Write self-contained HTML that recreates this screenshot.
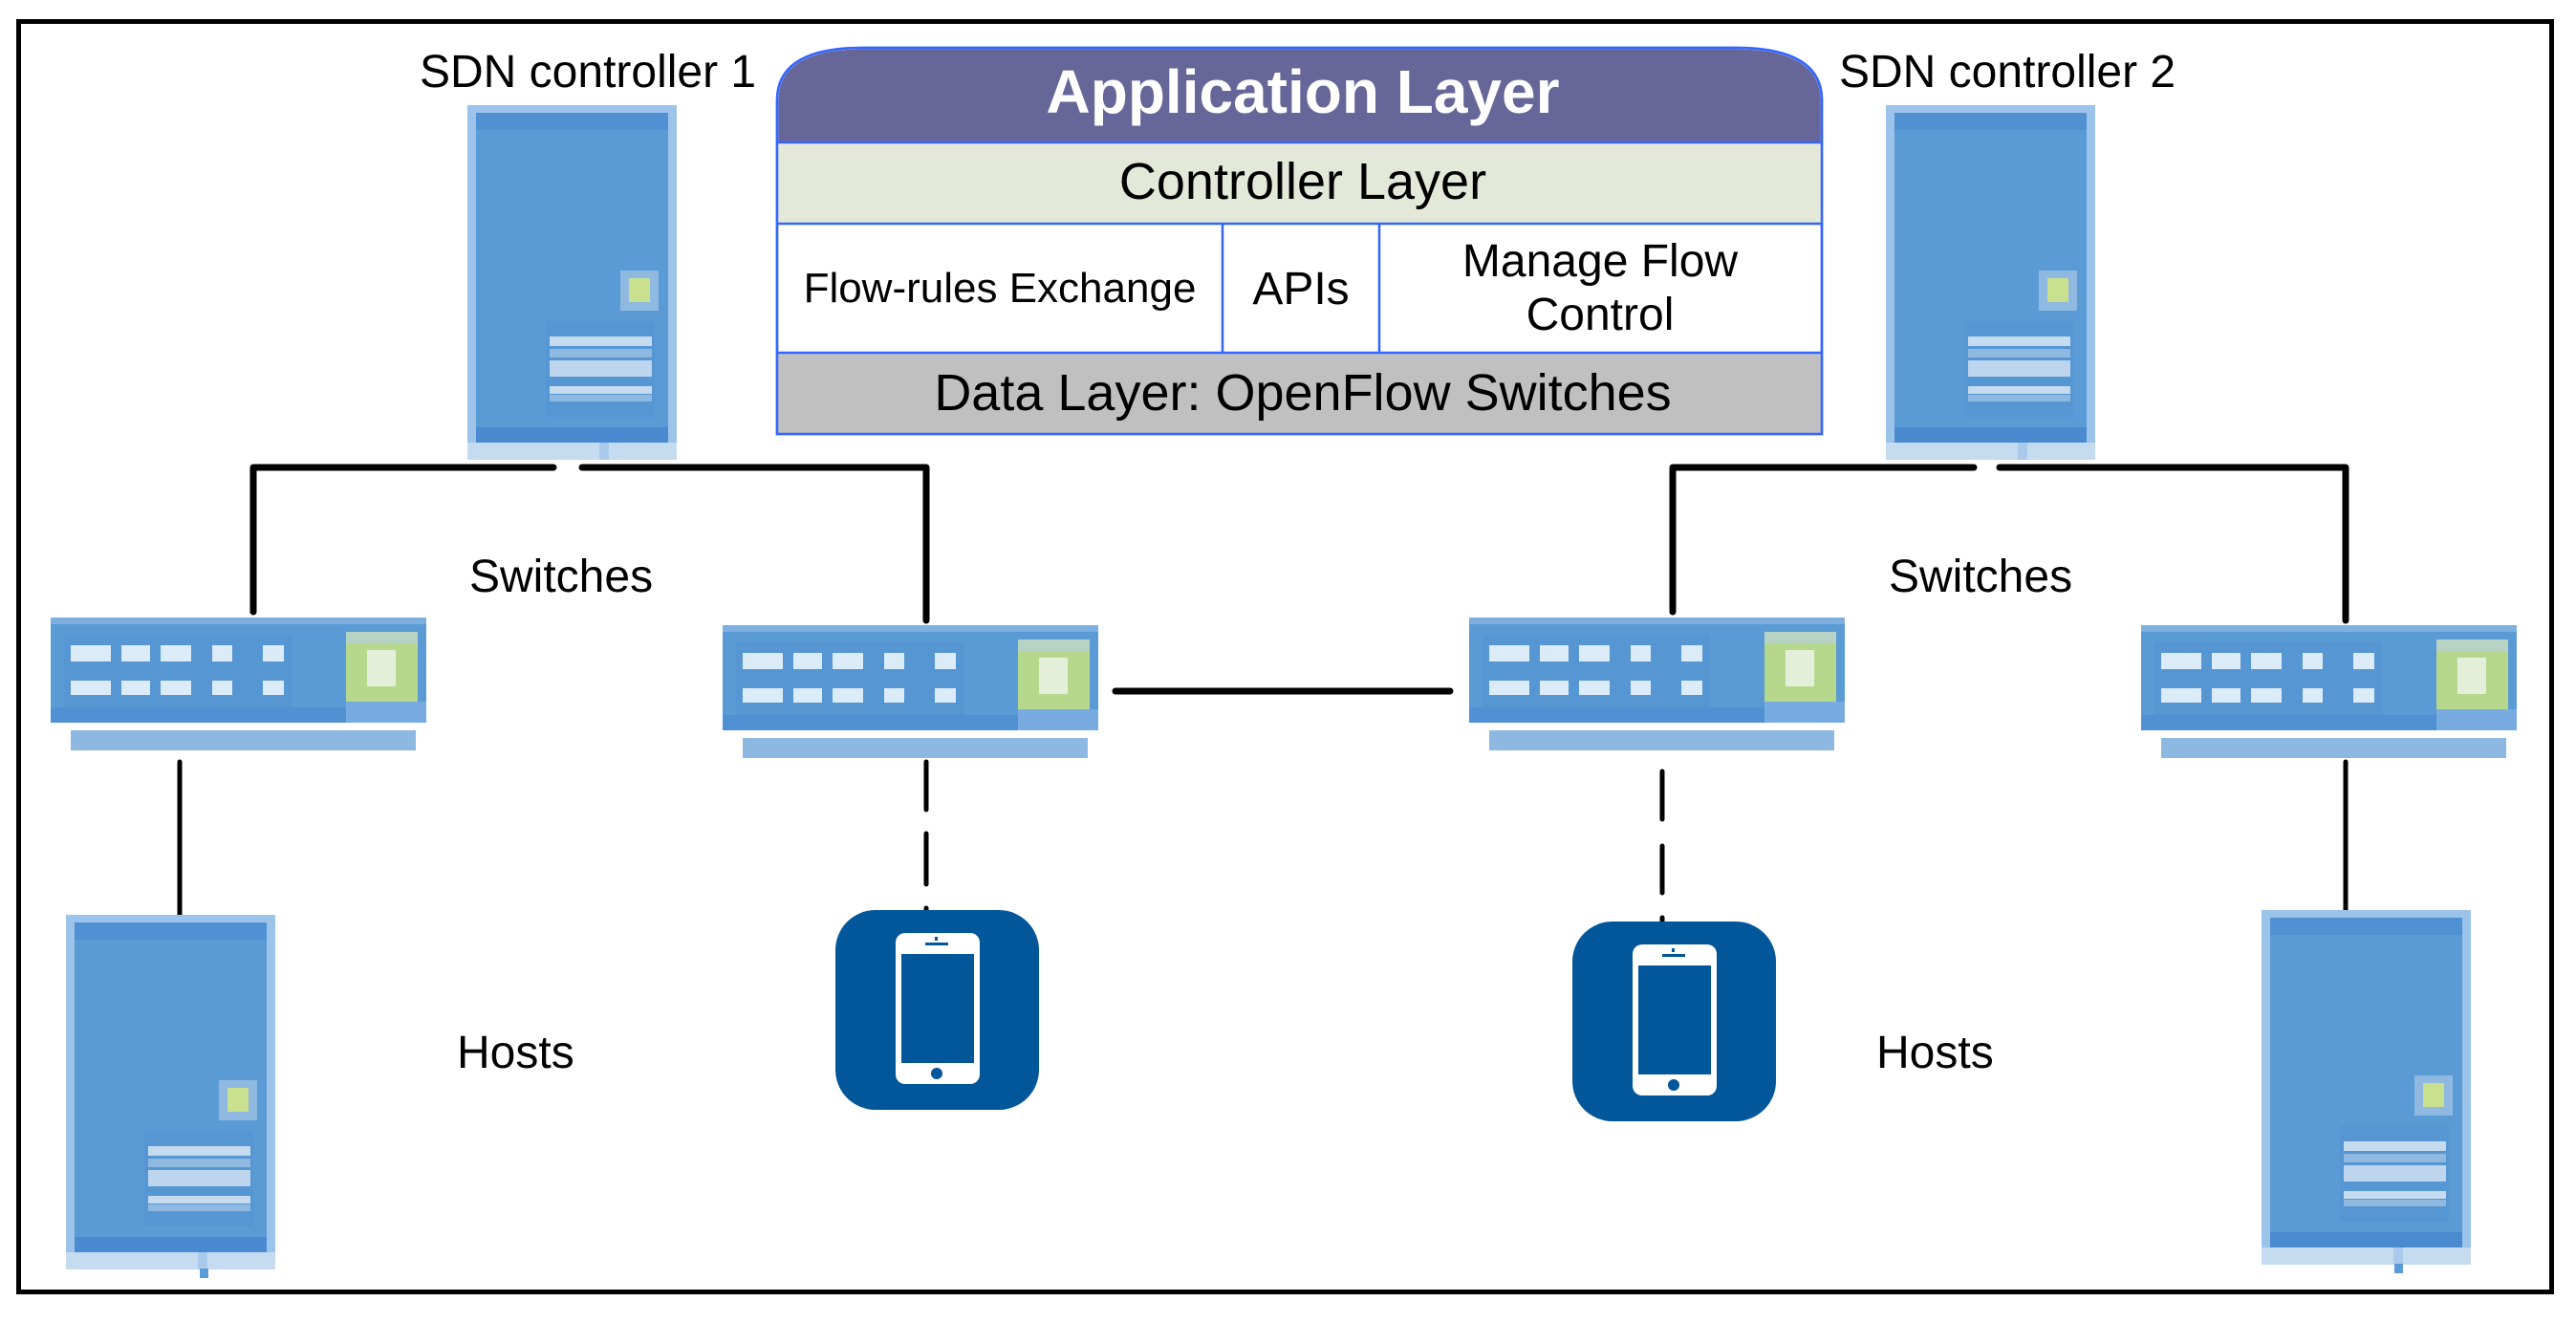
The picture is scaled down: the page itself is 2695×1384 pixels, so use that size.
<!DOCTYPE html>
<html><head><meta charset="utf-8"><style>
html,body{margin:0;padding:0;background:#fff}
svg{display:block}
text{font-family:"Liberation Sans",Arial,sans-serif;fill:#000}
</style></head><body>
<svg width="2695" height="1384" viewBox="0 0 2695 1384" xmlns="http://www.w3.org/2000/svg">
<defs>
<g id="server">
  <rect x="0" y="0" width="219" height="353" fill="#9cc3e9"/>
  <rect x="9" y="8" width="201" height="345" fill="#5b9bd5"/>
  <rect x="9" y="8" width="201" height="18" fill="#4f91d2"/>
  <rect x="9" y="337" width="201" height="16" fill="#4a8ad0"/>
  <rect x="0" y="353" width="219" height="18" fill="#c5dbf0"/>
  <rect x="138" y="353" width="10" height="18" fill="#a9caeb"/>
  <rect x="160" y="173" width="40" height="42" fill="#8fb9e0"/>
  <rect x="169" y="181" width="22" height="25" fill="#c9e08f"/>
  <rect x="82" y="226" width="114" height="100" fill="#5596d3"/>
  <rect x="86" y="242" width="107" height="10" fill="#c5dbf0"/>
  <rect x="86" y="255" width="107" height="9" fill="#8fb9e0"/>
  <rect x="86" y="267" width="107" height="17" fill="#bdd6ee"/>
  <rect x="86" y="294" width="107" height="8" fill="#c5dbf0"/>
  <rect x="86" y="303" width="107" height="7" fill="#8fb9e0"/>
</g>
<g id="switch">
  <rect x="0" y="0" width="393" height="110" fill="#5b9bd5"/>
  <rect x="0" y="0" width="393" height="7" fill="#7db0e0"/>
  <rect x="0" y="94" width="393" height="16" fill="#4f91d2"/>
  <rect x="309" y="88" width="84" height="22" fill="#78ace0"/>
  <rect x="14" y="18" width="238" height="76" fill="#5596d3"/>
  <g fill="#dcebf8">
    <rect x="21" y="29" width="42" height="17"/><rect x="74" y="29" width="30" height="17"/><rect x="115" y="29" width="32" height="17"/><rect x="169" y="29" width="21" height="17"/><rect x="222" y="29" width="22" height="17"/>
    <rect x="21" y="66" width="42" height="15"/><rect x="74" y="66" width="30" height="15"/><rect x="115" y="66" width="32" height="15"/><rect x="169" y="66" width="21" height="15"/><rect x="222" y="66" width="22" height="15"/>
  </g>
  <rect x="309" y="15" width="75" height="73" fill="#b5d88c"/>
  <rect x="309" y="15" width="75" height="12" fill="#b7d3c3"/>
  <rect x="331" y="34" width="30" height="38" fill="#e3efd8"/>
  <rect x="21" y="118" width="361" height="21" fill="#8db8e2"/>
</g>
<g id="phone">
  <rect x="0" y="0" width="213" height="209" rx="42" ry="42" fill="#02579a"/>
  <rect x="63" y="24" width="88" height="158" rx="10" fill="#fff"/>
  <rect x="69" y="46" width="76" height="114" fill="#02579a"/>
  <rect x="94" y="34" width="24" height="3" fill="#02579a"/>
  <rect x="104" y="28" width="3" height="4" fill="#02579a"/>
  <circle cx="106" cy="171" r="6" fill="#02579a"/>
</g>
</defs>

<rect x="19.5" y="22.5" width="2650" height="1329" fill="none" stroke="#000" stroke-width="5"/>

<path d="M813 454 V105 Q813 50 903 50 H1816 Q1906 50 1906 105 V454 Z" fill="#fff" stroke="#3366ff" stroke-width="2.5"/>
<path d="M814.5 149 V105 Q814.5 51.5 903 51.5 H1816 Q1904.5 51.5 1904.5 105 V149 Z" fill="#666699"/>
<rect x="814" y="149" width="1091" height="85" fill="#e4e8d8"/>
<rect x="814" y="369" width="1091" height="85" fill="#c0c0c0"/>
<g stroke="#3366ff" stroke-width="2.5" fill="none">
  <line x1="813" y1="149" x2="1906" y2="149"/>
  <line x1="813" y1="234" x2="1906" y2="234"/>
  <line x1="813" y1="369" x2="1906" y2="369"/>
  <line x1="1279" y1="234" x2="1279" y2="369"/>
  <line x1="1443" y1="234" x2="1443" y2="369"/>
  <path d="M813 454 V105 Q813 50 903 50 H1816 Q1906 50 1906 105 V454 Z"/>
</g>
<text x="1363" y="118" font-size="64" font-weight="bold" text-anchor="middle" style="fill:#fff">Application Layer</text>
<text x="1363" y="208" font-size="54" text-anchor="middle">Controller Layer</text>
<text x="1046" y="316" font-size="44" text-anchor="middle">Flow-rules Exchange</text>
<text x="1361" y="318" font-size="48" text-anchor="middle">APIs</text>
<text x="1674" y="289" font-size="48" text-anchor="middle">Manage Flow</text>
<text x="1674" y="345" font-size="48" text-anchor="middle">Control</text>
<text x="1363" y="429" font-size="54" text-anchor="middle">Data Layer: OpenFlow Switches</text>

<text x="439" y="91" font-size="48">SDN controller 1</text>
<text x="1924" y="91" font-size="48">SDN controller 2</text>
<text x="491" y="619" font-size="48">Switches</text>
<text x="1976" y="619" font-size="48">Switches</text>
<text x="478" y="1117" font-size="48">Hosts</text>
<text x="1963" y="1117" font-size="48">Hosts</text>

<g stroke="#000" stroke-width="7" fill="none" stroke-linejoin="round" stroke-linecap="round">
  <polyline points="265,640 265,489 579,489"/>
  <polyline points="609,489 969,489 969,649"/>
  <polyline points="1750,640 1750,489 2065,489"/>
  <polyline points="2092,489 2454,489 2454,649"/>
  <line x1="1167" y1="723" x2="1517" y2="723"/>
</g>
<g stroke="#000" stroke-width="5" fill="none" stroke-linecap="round">
  <line x1="188" y1="797" x2="188" y2="960"/>
  <line x1="2454" y1="797" x2="2454" y2="960"/>
  <line x1="969" y1="797" x2="969" y2="847"/>
  <line x1="969" y1="872" x2="969" y2="925"/>
  <line x1="969" y1="950" x2="969" y2="953"/>
  <line x1="1739" y1="807" x2="1739" y2="857"/>
  <line x1="1739" y1="885" x2="1739" y2="934"/>
  <line x1="1739" y1="960" x2="1739" y2="963"/>
</g>

<use href="#server" x="489" y="110"/>
<use href="#server" x="1973" y="110"/>
<use href="#server" x="69" y="957"/>
<use href="#server" x="2366" y="952"/>
<rect x="209" y="1327" width="9" height="10" fill="#5b9bd5"/>
<rect x="2505" y="1322" width="9" height="10" fill="#5b9bd5"/>
<use href="#switch" x="53" y="646"/>
<use href="#switch" x="756" y="654"/>
<use href="#switch" x="1537" y="646"/>
<use href="#switch" x="2240" y="654"/>
<use href="#phone" x="874" y="952"/>
<use href="#phone" x="1645" y="964"/>
</svg>
</body></html>
